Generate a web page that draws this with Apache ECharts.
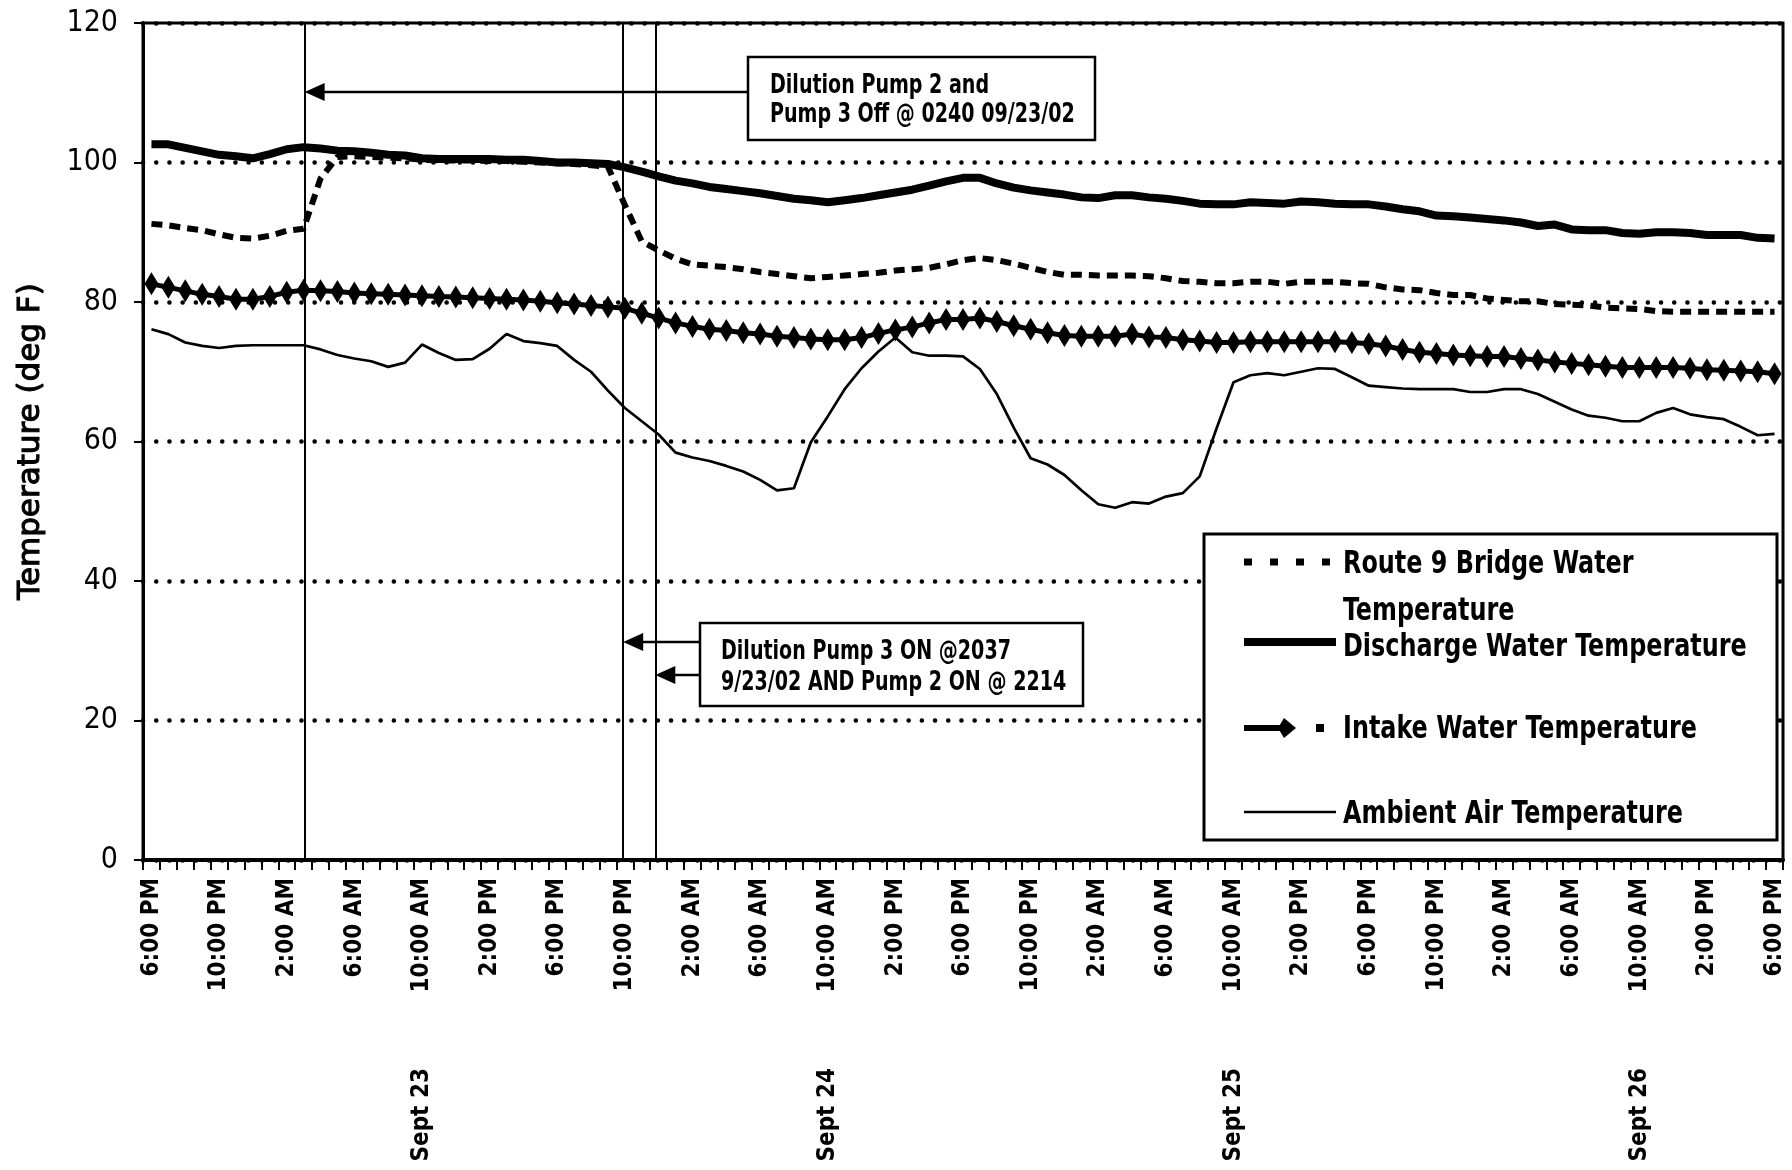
<!DOCTYPE html>
<html><head><meta charset="utf-8">
<script src="https://cdn.jsdelivr.net/npm/echarts@6/dist/echarts.min.js"></script>
<style>html,body{margin:0;padding:0;background:#fff}#c{width:1792px;height:1170px}</style>
</head><body><div id="c"></div>
<script>
// ---------- data ----------
// hourly readings, 6:00 PM Sept 22 through 6:00 PM Sept 26
const startHour = 18;
const pointCount = 97;
const timeCategories = [];
for (let k = 0; k < pointCount; k++) {
  const h = (startHour + k) % 24;
  const h12 = h % 12 === 0 ? 12 : h % 12;
  timeCategories.push(h12 + ':00 ' + (h < 12 ? 'AM' : 'PM'));
}
const dateLabels = ['Sept 23', 'Sept 24', 'Sept 25', 'Sept 26'];
const dateLabelIndex = [16, 40, 64, 88];
const yTicks = { min: 0, max: 120, step: 20 };

const route9Bridge = [
  91.2, 91.0, 90.6, 90.3, 89.7, 89.2, 89.1, 89.5, 90.2, 90.5, 97.7, 100.8, 100.9, 100.8, 100.7, 100.6, 100.4, 100.3, 100.3, 100.3, 100.2, 100.2, 100.1, 100.0,
  99.9, 99.8, 99.6, 99.4, 93.9, 88.7, 87.4, 86.2, 85.4, 85.2, 85.0, 84.7, 84.3, 84.0, 83.7, 83.4, 83.6, 83.8, 84.0, 84.2, 84.5, 84.7, 84.9, 85.4,
  86.0, 86.3, 86.0, 85.5, 84.9, 84.3, 83.9, 83.9, 83.8, 83.8, 83.8, 83.7, 83.4, 83.0, 82.9, 82.7, 82.7, 82.9, 82.9, 82.6, 82.9, 82.9, 82.9, 82.7, 82.6,
  82.1, 81.8, 81.7, 81.3, 81.0, 81.0, 80.5, 80.3, 80.1, 80.1, 79.7, 79.6, 79.5, 79.2, 79.1, 79.0, 78.7, 78.6, 78.6, 78.6, 78.6, 78.6, 78.6, 78.6
];
const discharge = [
  102.6, 102.6, 102.1, 101.6, 101.1, 100.9, 100.6, 101.2, 101.9, 102.2, 102.0, 101.7, 101.6, 101.4, 101.1, 101.0, 100.6, 100.5, 100.5, 100.5, 100.5, 100.4, 100.4, 100.2,
  100.0, 100.0, 99.9, 99.8, 99.3, 98.7, 98.0, 97.4, 97.0, 96.5, 96.2, 95.9, 95.6, 95.2, 94.8, 94.6, 94.3, 94.6, 94.9, 95.3, 95.7, 96.1, 96.7, 97.3,
  97.8, 97.8, 97.0, 96.4, 96.0, 95.7, 95.4, 95.0, 94.9, 95.3, 95.3, 95.0, 94.8, 94.5, 94.1, 94.0, 94.0, 94.3, 94.2, 94.1, 94.4, 94.3, 94.1, 94.0, 94.0,
  93.7, 93.3, 93.0, 92.4, 92.3, 92.1, 91.9, 91.7, 91.4, 90.9, 91.1, 90.4, 90.3, 90.3, 89.9, 89.8, 90.0, 90.0, 89.9, 89.6, 89.6, 89.6, 89.2, 89.1
];
const intake = [
  82.6, 82.1, 81.6, 81.1, 80.8, 80.4, 80.4, 80.8, 81.4, 81.7, 81.6, 81.5, 81.3, 81.2, 81.1, 81.0, 80.9, 80.8, 80.7, 80.6, 80.5, 80.4, 80.3, 80.1,
  79.9, 79.7, 79.5, 79.3, 79.1, 78.4, 77.7, 77.0, 76.5, 76.1, 75.9, 75.6, 75.4, 75.1, 74.9, 74.7, 74.6, 74.6, 74.9, 75.5, 76.0, 76.4, 77.0, 77.5,
  77.5, 77.7, 77.2, 76.6, 76.1, 75.6, 75.2, 75.1, 75.1, 75.1, 75.4, 75.0, 74.9, 74.6, 74.4, 74.2, 74.2, 74.3, 74.3, 74.3, 74.3, 74.3, 74.3, 74.2, 74.0,
  73.7, 73.2, 72.8, 72.6, 72.4, 72.3, 72.2, 72.2, 71.9, 71.7, 71.4, 71.2, 71.0, 70.8, 70.6, 70.6, 70.6, 70.6, 70.5, 70.3, 70.2, 70.1, 70.0, 69.7
];
const ambient = [
  76.1, 75.4, 74.2, 73.7, 73.4, 73.7, 73.8, 73.8, 73.8, 73.8, 73.2, 72.4, 71.9, 71.5, 70.7, 71.3, 73.9, 72.7, 71.7, 71.8, 73.3, 75.4, 74.4, 74.1,
  73.7, 71.7, 70.0, 67.3, 64.8, 62.9, 61.0, 58.4, 57.7, 57.2, 56.5, 55.7, 54.5, 53.0, 53.3, 59.9, 63.6, 67.5, 70.5, 72.9, 74.9, 72.8, 72.3, 72.3,
  72.2, 70.4, 66.8, 62.0, 57.6, 56.7, 55.2, 53.0, 51.0, 50.5, 51.3, 51.1, 52.1, 52.6, 55.0, 61.9, 68.5, 69.5, 69.8, 69.5, 70.0, 70.5, 70.4, 69.2, 68.0,
  67.8, 67.6, 67.5, 67.5, 67.5, 67.1, 67.1, 67.5, 67.5, 66.8, 65.7, 64.6, 63.7, 63.4, 62.9, 62.9, 64.1, 64.8, 63.9, 63.5, 63.2, 62.1, 60.9, 61.1
];
// event markers (hours after 6:00 PM Sept 22, as drawn)
const eventLines = [9.06, 27.9, 29.8];
const seriesNames = ['Route 9 Bridge Water Temperature', 'Discharge Water Temperature', 'Intake Water Temperature', 'Ambient Air Temperature'];
const note1 = ['Dilution Pump 2 and', 'Pump 3 Off @ 0240 09/23/02'];
const note2 = ['Dilution Pump 3 ON @2037', '9/23/02 AND Pump 2 ON @ 2214'];

// ---------- chart ----------
const COND = "'DejaVu Sans Condensed','DejaVu Sans',sans-serif";
const WIDE = "'DejaVu Sans',sans-serif";
const dateCats = timeCategories.map((_, i) => {
  const k = dateLabelIndex.indexOf(i);
  return k >= 0 ? dateLabels[k] : '';
});

const chart = echarts.init(document.getElementById('c'), null, { renderer: 'canvas' });
const xLabelStyle = { rotate: 90, margin: 18, fontFamily: COND, fontSize: 24, fontWeight: 'bold', color: '#000' };
const option = {
  animation: false,
  backgroundColor: '#fff',
  grid: { left: 143, right: 9, top: 23, bottom: 310, show: true, borderColor: '#000', borderWidth: 3 },
  xAxis: [
    {
      type: 'category', data: timeCategories, boundaryGap: true,
      axisLine: { onZero: false, lineStyle: { color: '#000', width: 4 } },
      axisTick: { show: true, interval: 0, length: 10, lineStyle: { color: '#000', width: 2 } },
      axisLabel: Object.assign({ interval: 3 }, xLabelStyle),
      splitLine: { show: false }
    },
    {
      type: 'category', data: dateCats, boundaryGap: true, position: 'bottom', offset: 190,
      axisLine: { show: false, onZero: false }, axisTick: { show: false },
      axisLabel: Object.assign({ interval: 0 }, xLabelStyle),
      splitLine: { show: false }
    },
    { type: 'value', min: -0.5, max: pointCount - 0.5, show: false, axisLine: { onZero: false } }
  ],
  yAxis: {
    type: 'value', min: yTicks.min, max: yTicks.max, interval: yTicks.step,
    name: 'Temperature (deg F)', nameLocation: 'middle', nameGap: 97,
    nameTextStyle: { fontFamily: WIDE, fontSize: 31, color: '#000', textBorderColor: '#000', textBorderWidth: 1.1 },
    axisLine: { show: true, onZero: false, lineStyle: { color: '#000', width: 3 } },
    axisTick: { show: true, length: 9, lineStyle: { color: '#000', width: 2 } },
    axisLabel: { fontFamily: COND, fontSize: 30, margin: 25, color: '#000' },
    splitLine: { show: true, lineStyle: { color: '#000', width: 4.5, type: [0.1, 13.1], cap: 'round' } }
  },
  series: [
    { name: seriesNames[0], type: 'line', data: route9Bridge, symbol: 'none', z: 2,
      lineStyle: { color: '#000', width: 6, type: [11, 7] } },
    { name: seriesNames[1], type: 'line', data: discharge, symbol: 'none', z: 3,
      lineStyle: { color: '#000', width: 8 } },
    { name: seriesNames[2], type: 'line', data: intake, symbol: 'diamond', symbolSize: [14, 23], showAllSymbol: true, z: 4,
      itemStyle: { color: '#000' }, lineStyle: { color: '#000', width: 5 } },
    { name: seriesNames[3], type: 'line', data: ambient, symbol: 'none', z: 5,
      lineStyle: { color: '#000', width: 2.7 } },
    { name: 'events', type: 'line', xAxisIndex: 2, data: [], z: 6,
      markLine: { silent: true, symbol: 'none', label: { show: false },
        lineStyle: { color: '#000', width: 2, type: 'solid' },
        data: eventLines.map(v => ({ xAxis: v })) } }
  ]
};
chart.setOption(option);

const ev = eventLines.map(v => chart.convertToPixel({ xAxisIndex: 2 }, v));
const noteFont = "bold 26px " + COND;
const legFont = "bold 32px " + COND;
function arrow(xTip, y, xEnd) {
  return [
    { type: 'line', z: 100, shape: { x1: xTip + 12, y1: y, x2: xEnd, y2: y }, style: { stroke: '#000', lineWidth: 2.5 } },
    { type: 'polygon', z: 100, shape: { points: [[xTip, y], [xTip + 20, y - 9], [xTip + 20, y + 9]] }, style: { fill: '#000' } }
  ];
}
function txt(t, x, y, font, sx) {
  return { type: 'text', z: 101, x: x, y: y, scaleX: sx, style: { text: t, x: 0, y: 0, font: font, fill: '#000', verticalAlign: 'middle', align: 'left' } };
}
const g = [];
// note 1
g.push({ type: 'rect', z: 100, shape: { x: 748, y: 57, width: 347, height: 83 }, style: { fill: '#fff', stroke: '#000', lineWidth: 2.5 } });
g.push(txt(note1[0], 770, 86, noteFont, 0.815), txt(note1[1], 770, 115, noteFont, 0.815));
g.push(...arrow(ev[0], 92, 748));
// note 2
g.push({ type: 'rect', z: 100, shape: { x: 700, y: 623, width: 383, height: 83 }, style: { fill: '#fff', stroke: '#000', lineWidth: 2.5 } });
g.push(txt(note2[0], 721, 652, noteFont, 0.815), txt(note2[1], 721, 683, noteFont, 0.815));
g.push(...arrow(ev[1], 642, 700));
g.push(...arrow(ev[2], 675, 700));
// legend
g.push({ type: 'rect', z: 100, shape: { x: 1204, y: 534, width: 573, height: 306 }, style: { fill: '#fff', stroke: '#000', lineWidth: 3 } });
g.push({ type: 'line', z: 101, shape: { x1: 1244, y1: 562, x2: 1330, y2: 562 }, style: { stroke: '#000', lineWidth: 7, lineDash: [8, 18] } });
g.push(txt('Route 9 Bridge Water', 1343, 565, legFont, 0.83), txt('Temperature', 1343, 612, legFont, 0.83));
g.push({ type: 'line', z: 101, shape: { x1: 1244, y1: 642, x2: 1336, y2: 642 }, style: { stroke: '#000', lineWidth: 8 } });
g.push(txt('Discharge Water Temperature', 1343, 648, legFont, 0.83));
g.push({ type: 'line', z: 101, shape: { x1: 1244, y1: 728, x2: 1288, y2: 728 }, style: { stroke: '#000', lineWidth: 6 } });
g.push({ type: 'polygon', z: 101, shape: { points: [[1284, 718], [1296, 728], [1284, 738], [1278, 728]] }, style: { fill: '#000' } });
g.push({ type: 'rect', z: 101, shape: { x: 1316, y: 724, width: 8, height: 8 }, style: { fill: '#000' } });
g.push(txt('Intake Water Temperature', 1343, 730, legFont, 0.83));
g.push({ type: 'line', z: 101, shape: { x1: 1244, y1: 812, x2: 1336, y2: 812 }, style: { stroke: '#000', lineWidth: 2.7 } });
g.push(txt('Ambient Air Temperature', 1343, 815, legFont, 0.83));
chart.setOption({ graphic: g });
</script>
</body></html>
